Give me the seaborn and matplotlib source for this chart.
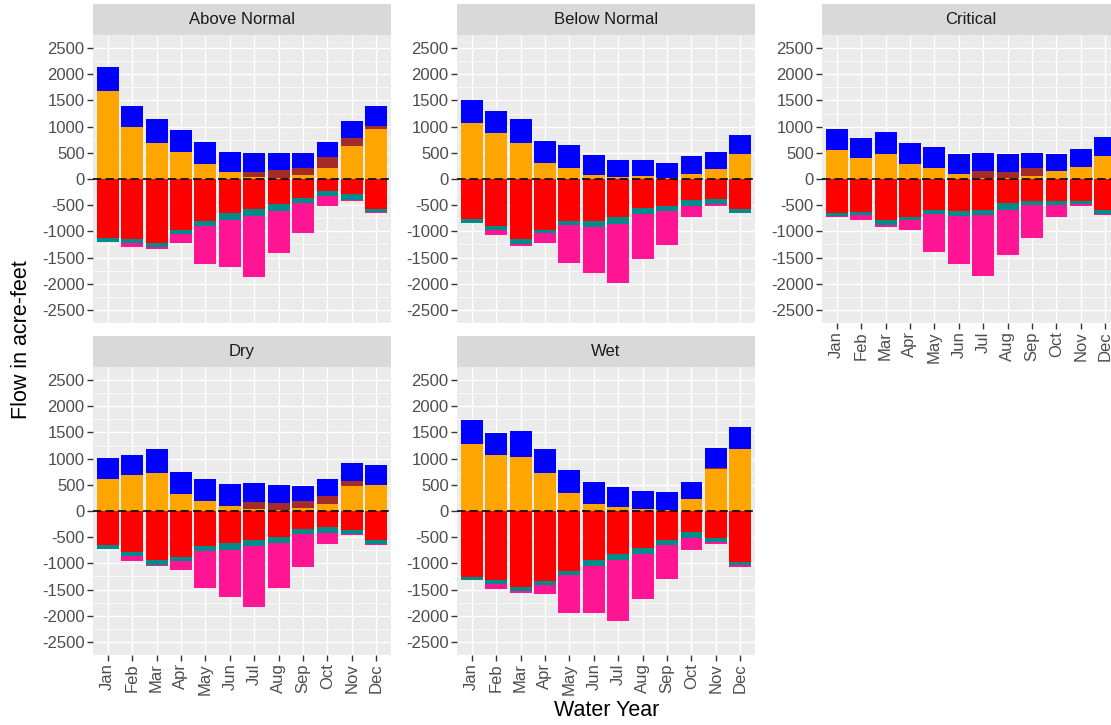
import numpy as np
import pandas as pd
import matplotlib
matplotlib.use("Agg")
import matplotlib.pyplot as plt
import seaborn as sns
from matplotlib.ticker import FixedLocator

# ---------------- data ----------------
months = ["Jan", "Feb", "Mar", "Apr", "May", "Jun", "Jul", "Aug", "Sep", "Oct", "Nov", "Dec"]
year_types = ["Above Normal", "Below Normal", "Critical", "Dry", "Wet"]

# positive components (stacked upward: orange, brown, blue)
above_normal_orange = [1680, 990, 680, 515, 280, 125, 30, 20, 75, 215, 635, 955]
above_normal_brown = [0, 0, 0, 0, 0, 0, 110, 150, 140, 205, 155, 65]
above_normal_blue = [450, 400, 465, 430, 425, 395, 350, 320, 285, 280, 320, 370]
# negative components (stacked downward: red, teal, pink)
above_normal_red = [-1120, -1140, -1220, -980, -810, -655, -580, -480, -360, -235, -295, -565]
above_normal_teal = [-80, -80, -80, -65, -80, -135, -125, -130, -95, -95, -100, -65]
above_normal_pink = [0, -80, -45, -180, -730, -895, -1170, -800, -575, -185, -30, -10]

below_normal_orange = [1075, 880, 685, 315, 215, 75, 40, 50, 20, 105, 200, 470]
below_normal_brown = [0, 0, 0, 0, 0, 0, 0, 0, 0, 0, 0, 0]
below_normal_blue = [435, 415, 460, 415, 430, 380, 325, 315, 295, 340, 325, 370]
below_normal_red = [-755, -895, -1155, -980, -810, -810, -725, -550, -515, -410, -385, -565]
below_normal_teal = [-80, -80, -80, -50, -75, -100, -135, -125, -100, -105, -85, -75]
below_normal_pink = [0, -90, -45, -185, -720, -885, -1125, -860, -640, -210, -45, -10]

critical_orange = [545, 410, 480, 280, 205, 90, 25, 10, 65, 155, 235, 430]
critical_brown = [0, 0, 0, 0, 0, 0, 130, 130, 150, 0, 0, 0]
critical_blue = [405, 370, 415, 410, 400, 390, 340, 335, 275, 325, 340, 375]
critical_red = [-645, -625, -785, -720, -595, -615, -595, -465, -420, -415, -415, -595]
critical_teal = [-65, -65, -85, -65, -75, -95, -95, -130, -75, -85, -70, -65]
critical_pink = [-25, -95, -45, -180, -720, -905, -1160, -860, -640, -220, -30, -30]

dry_orange = [605, 680, 725, 325, 185, 95, 45, 20, 55, 140, 480, 490]
dry_brown = [0, 0, 0, 0, 0, 0, 125, 140, 135, 145, 90, 0]
dry_blue = [410, 395, 455, 415, 420, 415, 360, 340, 295, 320, 345, 395]
dry_red = [-640, -785, -945, -880, -675, -610, -560, -495, -340, -310, -355, -560]
dry_teal = [-80, -75, -80, -75, -80, -130, -115, -115, -95, -105, -80, -65]
dry_pink = [0, -95, -25, -180, -720, -895, -1160, -860, -635, -210, -30, -15]

wet_orange = [1270, 1065, 1025, 725, 340, 140, 75, 30, 20, 235, 810, 1175]
wet_brown = [0, 0, 0, 0, 0, 0, 0, 0, 0, 0, 15, 0]
wet_blue = [465, 425, 500, 465, 450, 410, 380, 345, 335, 320, 370, 420]
wet_red = [-1265, -1325, -1455, -1340, -1150, -945, -815, -710, -560, -400, -510, -975]
wet_teal = [-50, -65, -70, -70, -65, -105, -130, -120, -95, -115, -85, -65]
wet_pink = [0, -95, -40, -180, -730, -895, -1160, -860, -640, -225, -30, -20]

y_ticks = [-2500, -2000, -1500, -1000, -500, 0, 500, 1000, 1500, 2000, 2500]

series = {
    "Above Normal": (above_normal_orange, above_normal_brown, above_normal_blue,
                     above_normal_red, above_normal_teal, above_normal_pink),
    "Below Normal": (below_normal_orange, below_normal_brown, below_normal_blue,
                     below_normal_red, below_normal_teal, below_normal_pink),
    "Critical": (critical_orange, critical_brown, critical_blue,
                 critical_red, critical_teal, critical_pink),
    "Dry": (dry_orange, dry_brown, dry_blue, dry_red, dry_teal, dry_pink),
    "Wet": (wet_orange, wet_brown, wet_blue, wet_red, wet_teal, wet_pink),
}

# ---------------- style ----------------
sns.set_theme(style="darkgrid", rc={
    "axes.facecolor": "#EBEBEB",
    "grid.color": "white",
    "axes.unicode_minus": False,
})
plt.rcParams["font.family"] = ["Liberation Sans", "DejaVu Sans"]
plt.rcParams["axes.unicode_minus"] = False

W, H = 1111, 725
fig = plt.figure(figsize=(W / 100, H / 100), dpi=100)
fig.patch.set_facecolor("white")

col_x = [93, 457, 822]
panel_w = 298
row_y = [(35, 323), (367, 655)]
strip_y = [(4, 35), (336, 367)]

C_ORANGE = "#FFA500"
C_BROWN = "#A52A2A"
C_BLUE = "#0000FF"
C_RED = "#FF0000"
C_TEAL = "#008B8B"
C_PINK = "#FF1493"

layout = {
    "Above Normal": (0, 0, False),
    "Below Normal": (0, 1, False),
    "Critical": (0, 2, True),
    "Dry": (1, 0, True),
    "Wet": (1, 1, True),
}

TICK_FS = 12

for name in year_types:
    r, c, show_x = layout[name]
    orange, brown, blue, red, teal, pink = [np.array(v, dtype=float) for v in series[name]]
    x0 = col_x[c]
    top, bot = row_y[r]
    ax = fig.add_axes([x0 / W, 1 - bot / H, panel_w / W, (bot - top) / H])
    ax.set_facecolor("#EBEBEB")

    df = pd.DataFrame({
        "month": months,
        "pos3": orange + brown + blue,
        "pos2": orange + brown,
        "pos1": orange,
        "neg3": red + teal + pink,
        "neg2": red + teal,
        "neg1": red,
    })
    layers = [("pos3", C_BLUE), ("pos2", C_BROWN), ("pos1", C_ORANGE),
              ("neg3", C_PINK), ("neg2", C_TEAL), ("neg1", C_RED)]
    for col, colr in layers:
        sns.barplot(data=df, x="month", y=col, order=months, color=colr,
                    saturation=1, width=0.9, errorbar=None, linewidth=0,
                    edgecolor="none", ax=ax, zorder=2)

    ax.axhline(0, color="black", lw=1.2, ls=(0, (5, 2.5)), zorder=3)

    ax.set_xlim(-0.6, 11.6)
    ax.set_ylim(-2750, 2750)
    ax.yaxis.set_major_locator(FixedLocator(y_ticks))
    ax.set_yticklabels([str(t) for t in y_ticks])
    ax.yaxis.set_minor_locator(FixedLocator([t + 250 for t in y_ticks[:-1]]))
    ax.grid(which="major", axis="both", color="white", lw=1.0)
    ax.grid(which="minor", axis="y", color="white", lw=0.5)
    ax.set_axisbelow(True)
    for s in ax.spines.values():
        s.set_visible(False)
    ax.set_xlabel("")
    ax.set_ylabel("")
    ax.tick_params(axis="y", which="major", left=True, length=4, width=1,
                   color="#333333", labelcolor="#4D4D4D", labelsize=TICK_FS, pad=2)
    ax.tick_params(axis="y", which="minor", left=False)
    if show_x:
        ax.set_xticks(range(len(months)))
        ax.set_xticklabels(months, rotation=90, va="top", ha="center")
        ax.tick_params(axis="x", bottom=True, length=4, width=1, color="#333333",
                       labelcolor="#4D4D4D", labelsize=TICK_FS, pad=2)
    else:
        ax.tick_params(axis="x", bottom=False, labelbottom=False)

    # strip
    s_top, s_bot = strip_y[r]
    sax = fig.add_axes([x0 / W, 1 - s_bot / H, panel_w / W, (s_bot - s_top) / H])
    sax.set_facecolor("#D9D9D9")
    sax.set_xticks([])
    sax.set_yticks([])
    sax.grid(False)
    for s in sax.spines.values():
        s.set_visible(False)
    sax.text(0.5, 0.5, name, ha="center", va="center", fontsize=12,
             color="#1A1A1A", transform=sax.transAxes)

fig.text(22 / W, 1 - 340 / H, "Flow in acre-feet", rotation=90, ha="center",
         va="center", fontsize=15.5, color="black")
fig.text(606.5 / W, 1 - 711 / H, "Water Year", ha="center", va="center",
         fontsize=15.5, color="black")

fig.savefig("out.png", dpi=100, facecolor="white")
